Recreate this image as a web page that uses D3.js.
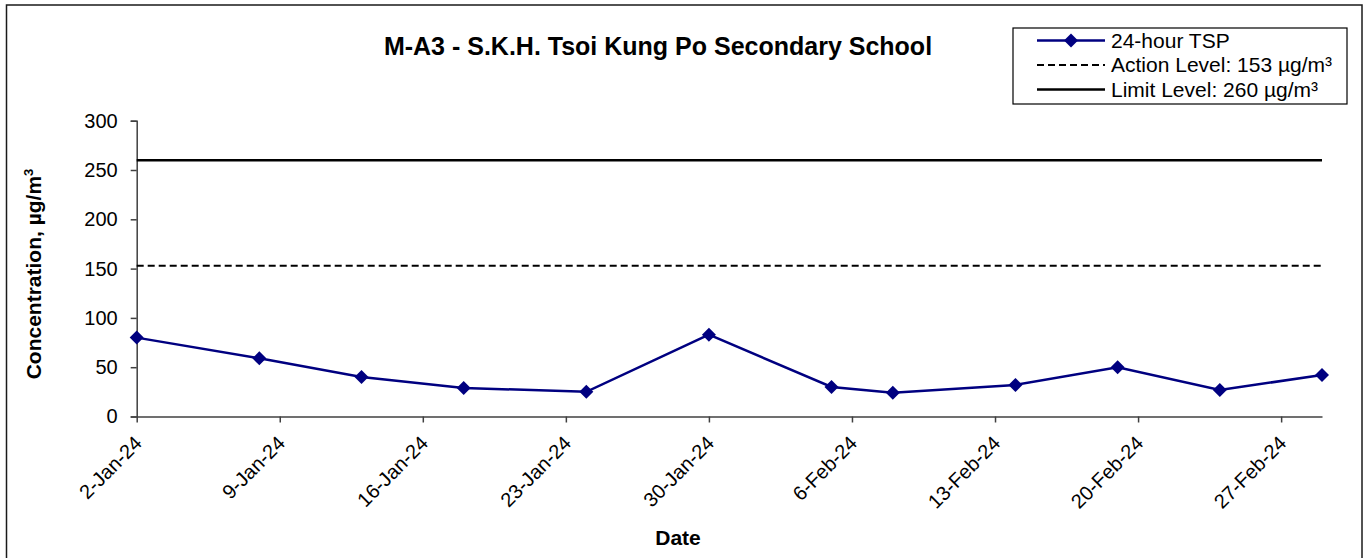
<!DOCTYPE html>
<html>
<head>
<meta charset="utf-8">
<script src="https://cdn.jsdelivr.net/npm/d3@7"></script>
<style>
  html, body { margin: 0; padding: 0; background: #fff; }
  svg { display: block; font-family: "Liberation Sans", Arial, sans-serif; }
</style>
</head>
<body>
<svg id="chart" width="1368" height="558"></svg>
<script>
// ---- Data ----
const title = "M-A3 - S.K.H. Tsoi Kung Po Secondary School";
const sampleDates = ["2024-01-02","2024-01-08","2024-01-13","2024-01-18","2024-01-24","2024-01-30",
                     "2024-02-05","2024-02-08","2024-02-14","2024-02-19","2024-02-24","2024-02-29"];
const tspValues = [80, 59, 40, 29, 25, 83, 30, 24, 32, 50, 27, 42];
const actionLevel = 153;
const limitLevel = 260;
const xDomain = ["2024-01-02", "2024-02-29"];
const xTickDates = ["2024-01-02","2024-01-09","2024-01-16","2024-01-23","2024-01-30",
                    "2024-02-06","2024-02-13","2024-02-20","2024-02-27"];
const xTickLabels = ["2-Jan-24","9-Jan-24","16-Jan-24","23-Jan-24","30-Jan-24",
                     "6-Feb-24","13-Feb-24","20-Feb-24","27-Feb-24"];
const yTicks = [0, 50, 100, 150, 200, 250, 300];
const legendLabels = ["24-hour TSP", "Action Level: 153 \u00b5g/m\u00b3", "Limit Level: 260 \u00b5g/m\u00b3"];

// ---- Layout ----
const parse = d3.utcParse("%Y-%m-%d");
const svg = d3.select("#chart");
const plot = { left: 136.7, right: 1322, top: 120.7, bottom: 416.5 };
const navy = "#000080";

const x = d3.scaleUtc().domain(xDomain.map(parse)).range([plot.left, plot.right]);
const y = d3.scaleLinear().domain([0, 300]).range([plot.bottom, plot.top]);

// outer frame
svg.append("rect").attr("x", 6.5).attr("y", 5).attr("width", 1355.5).attr("height", 580)
  .attr("fill", "none").attr("stroke", "#1a1a1a").attr("stroke-width", 1.5);

// title
svg.append("text").attr("x", 658).attr("y", 55).attr("text-anchor", "middle")
  .attr("font-size", 25).attr("font-weight", "bold").attr("fill", "#000").text(title);

// y axis
const yAxis = svg.append("g").attr("transform", `translate(${plot.left},0)`)
  .call(d3.axisLeft(y).tickValues(yTicks).tickSize(6).tickPadding(13));
yAxis.select(".domain").attr("stroke", "#404040").attr("stroke-width", 1.5);
yAxis.selectAll(".tick line").attr("stroke", "#404040").attr("stroke-width", 1.5);
yAxis.selectAll(".tick text").attr("font-size", 20).attr("fill", "#000")
  .attr("font-family", "Liberation Sans, Arial, sans-serif");

// x axis
const xTickMap = new Map(xTickDates.map((d, i) => [+parse(d), xTickLabels[i]]));
const xAxis = svg.append("g").attr("transform", `translate(0,${plot.bottom})`)
  .call(d3.axisBottom(x).tickValues(xTickDates.map(parse)).tickSize(6).tickSizeOuter(0)
        .tickFormat(d => xTickMap.get(+d)));
xAxis.select(".domain").attr("stroke", "#404040").attr("stroke-width", 1.5);
xAxis.selectAll(".tick line").attr("stroke", "#404040").attr("stroke-width", 1.5);
xAxis.selectAll(".tick text")
  .attr("font-size", 20).attr("fill", "#000")
  .attr("font-family", "Liberation Sans, Arial, sans-serif")
  .attr("text-anchor", "end")
  .attr("y", 0).attr("dy", 0)
  .attr("transform", "translate(6,28) rotate(-45)");

// reference lines
svg.append("line").attr("x1", plot.left).attr("x2", plot.right)
  .attr("y1", y(limitLevel)).attr("y2", y(limitLevel))
  .attr("stroke", "#000").attr("stroke-width", 2.5);
svg.append("line").attr("x1", plot.left).attr("x2", plot.right)
  .attr("y1", y(actionLevel)).attr("y2", y(actionLevel))
  .attr("stroke", "#000").attr("stroke-width", 2).attr("stroke-dasharray", "7,4");

// series
const pts = sampleDates.map((d, i) => ({ date: parse(d), v: tspValues[i] }));
svg.append("path").datum(pts)
  .attr("fill", "none").attr("stroke", navy).attr("stroke-width", 2.5)
  .attr("d", d3.line().x(d => x(d.date)).y(d => y(d.v)));
const diamond = d3.symbol().type(d3.symbolDiamond2).size(125);
svg.append("g").selectAll("path").data(pts).join("path")
  .attr("transform", d => `translate(${x(d.date)},${y(d.v)})`)
  .attr("d", diamond).attr("fill", navy);

// axis titles
svg.append("text").attr("transform", "translate(41,274) rotate(-90)")
  .attr("text-anchor", "middle").attr("font-size", 21).attr("font-weight", "bold")
  .call(t => {
    t.append("tspan").text("Concentration, \u00b5g/m");
    t.append("tspan").attr("font-size", 13).attr("dy", -8).text("3");
  });
svg.append("text").attr("x", 678).attr("y", 545).attr("text-anchor", "middle")
  .attr("font-size", 21).attr("font-weight", "bold").text("Date");

// legend
const lg = svg.append("g");
lg.append("rect").attr("x", 1013).attr("y", 28).attr("width", 334).attr("height", 76)
  .attr("fill", "#fff").attr("stroke", "#000").attr("stroke-width", 1.2);
const rowsY = [40.5, 65, 89.5];
// row 1
lg.append("line").attr("x1", 1037).attr("x2", 1105).attr("y1", rowsY[0]).attr("y2", rowsY[0])
  .attr("stroke", navy).attr("stroke-width", 2.5);
lg.append("path").attr("transform", `translate(1071,${rowsY[0]})`).attr("d", diamond).attr("fill", navy);
// row 2
lg.append("line").attr("x1", 1037).attr("x2", 1105).attr("y1", rowsY[1]).attr("y2", rowsY[1])
  .attr("stroke", "#000").attr("stroke-width", 2).attr("stroke-dasharray", "7,4");
// row 3
lg.append("line").attr("x1", 1037).attr("x2", 1105).attr("y1", rowsY[2]).attr("y2", rowsY[2])
  .attr("stroke", "#000").attr("stroke-width", 2.5);
lg.selectAll("text.lab").data(legendLabels).join("text").attr("class", "lab")
  .attr("x", 1111).attr("y", (d, i) => rowsY[i]).attr("dy", "0.35em")
  .attr("font-size", 21).attr("fill", "#000").text(d => d);
</script>
</body>
</html>
